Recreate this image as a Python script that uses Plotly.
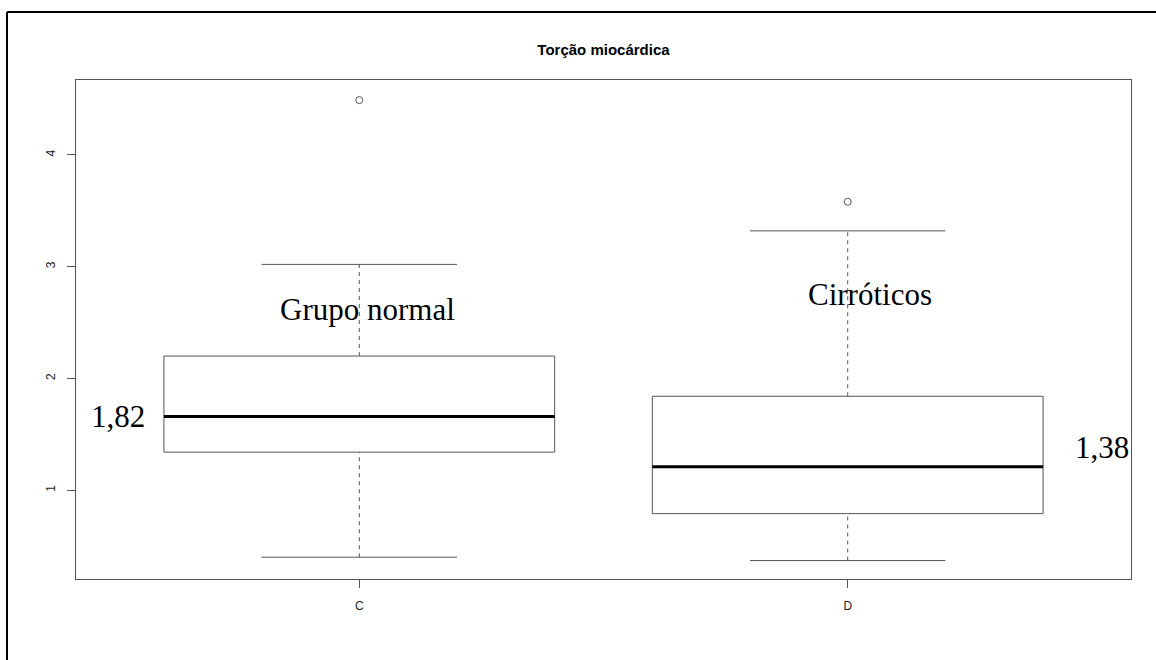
import plotly.graph_objects as go

# Box-plot statistics for myocardial torsion by group
groups = ["C", "D"]
lower_whisker = [0.40, 0.37]
q1 = [1.34, 0.79]
median = [1.66, 1.21]
q3 = [2.20, 1.84]
upper_whisker = [3.02, 3.32]
outliers = [[4.49], [3.58]]

group_labels = ["Grupo normal", "Cirróticos"]
mean_labels = ["1,82", "1,38"]

BOX_HALF = 0.4      # half box width in x units
CAP_HALF = 0.2      # half whisker-cap width
LINE_COL = "#555555"

fig = go.Figure()

for i, g in enumerate(groups):
    x0 = i + 1
    # box body
    fig.add_trace(go.Scatter(
        x=[x0 - BOX_HALF, x0 + BOX_HALF, x0 + BOX_HALF, x0 - BOX_HALF, x0 - BOX_HALF],
        y=[q1[i], q1[i], q3[i], q3[i], q1[i]],
        mode="lines", line=dict(color=LINE_COL, width=1), hoverinfo="skip"))
    # dashed whiskers
    for lo, hi in ((lower_whisker[i], q1[i]), (q3[i], upper_whisker[i])):
        fig.add_trace(go.Scatter(
            x=[x0, x0], y=[lo, hi], mode="lines",
            line=dict(color=LINE_COL, width=1, dash="4px,4px"), hoverinfo="skip"))
    # whisker caps
    for v in (lower_whisker[i], upper_whisker[i]):
        fig.add_trace(go.Scatter(
            x=[x0 - CAP_HALF, x0 + CAP_HALF], y=[v, v], mode="lines",
            line=dict(color=LINE_COL, width=1), hoverinfo="skip"))
    # median
    fig.add_trace(go.Scatter(
        x=[x0 - BOX_HALF, x0 + BOX_HALF], y=[median[i], median[i]], mode="lines",
        line=dict(color="black", width=3), hoverinfo="skip"))
    # outliers
    fig.add_trace(go.Scatter(
        x=[x0] * len(outliers[i]), y=outliers[i], mode="markers",
        marker=dict(symbol="circle-open", size=7, color=LINE_COL, line=dict(width=1)),
        hoverinfo="skip"))

serif = dict(family="Liberation Serif, Times New Roman, serif", size=31, color="black")
annotations = [
    dict(x=1.016, y=2.62, text=group_labels[0]),
    dict(x=2.046, y=2.75, text=group_labels[1]),
    dict(x=0.506, y=median[0], text=mean_labels[0]),
    dict(x=2.52, y=1.38, text=mean_labels[1]),
]
for a in annotations:
    a.update(xref="x", yref="y", showarrow=False, font=serif,
             xanchor="center", yanchor="middle")

axis_common = dict(
    showgrid=False, zeroline=False, showline=True, linecolor=LINE_COL, linewidth=1,
    mirror=True, ticks="outside", ticklen=8, tickcolor=LINE_COL, tickwidth=1,
    tickfont=dict(family="Liberation Sans, Arial, sans-serif", size=12, color="#222222"),
)

fig.update_layout(
    width=1156, height=660,
    margin=dict(l=76, r=25, t=80, b=81),
    paper_bgcolor="white", plot_bgcolor="white",
    showlegend=False,
    title=dict(text="<b>Torção miocárdica</b>", x=(76 + 1131) / 2 / 1156, xanchor="center",
               y=1 - 50 / 660, yanchor="middle",
               font=dict(family="Liberation Sans, Arial, sans-serif", size=15, color="black")),
    xaxis=dict(axis_common, range=[0.42, 2.58], tickvals=[1, 2], ticktext=groups,
               ticklabelstandoff=8),
    yaxis=dict(axis_common, range=[0.205, 4.67], tickvals=[1, 2, 3, 4], tickangle=-90,
               ticklabelstandoff=7),
    annotations=annotations,
    shapes=[
        # outer frame (left and top edges)
        dict(type="line", xref="paper", yref="paper", x0=-69 / 1055, x1=1.2,
             y0=567 / 499, y1=567 / 499, line=dict(color="black", width=2)),
        dict(type="line", xref="paper", yref="paper", x0=-69 / 1055, x1=-69 / 1055,
             y0=-0.3, y1=567 / 499, line=dict(color="black", width=2)),
    ],
)

fig.write_html("out.html")
